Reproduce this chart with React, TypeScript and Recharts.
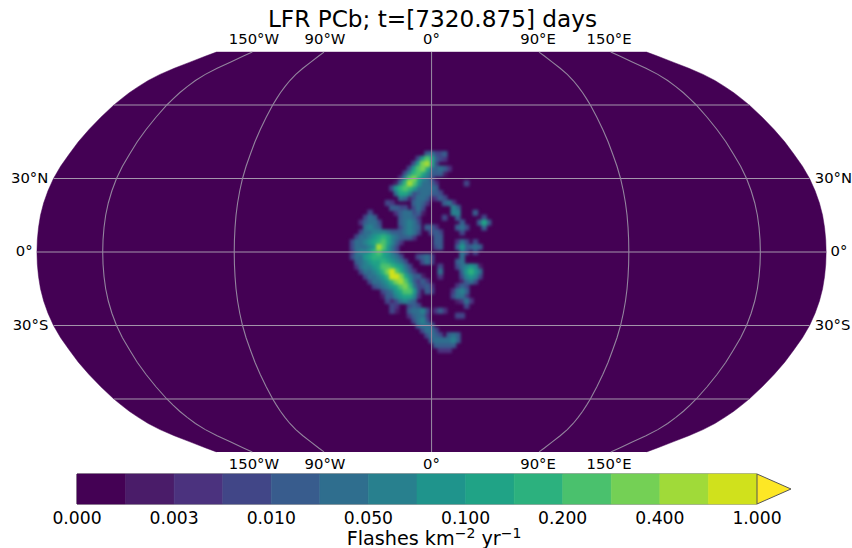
import React from "react";
import { ScatterChart, Scatter, XAxis, YAxis, BarChart, Bar, ReferenceArea } from "recharts";

const FONT = "'DejaVu Sans', sans-serif";

// Pseudocylindrical map: how much a meridian is compressed at each latitude.
const northLats = [0, 5, 10, 15, 20, 25, 30, 35, 40, 45, 50, 55, 60, 62.5, 65, 67.5, 70, 72.5, 75, 77.5, 80, 81.6];
const northWidths = [1, 0.999, 0.996, 0.991, 0.983, 0.972, 0.958, 0.94, 0.918, 0.895, 0.868, 0.838, 0.805, 0.786, 0.766, 0.743, 0.718, 0.688, 0.652, 0.612, 0.572, 0.545];
const parallels = [-60, -30, 0, 30, 60];
const meridians = [-150, -90, 0, 90, 150];
const topLabels = ["150°W", "90°W", "0°", "90°E", "150°E"];
const sideLabels = ["30°N", "0°", "30°S"];
const sideLats = [30, 0, -30];

// Discrete colour levels
const levelColors = ["#440154", "#4a1c69", "#4b327e", "#414687", "#385c8d", "#2f6e8e", "#28808e", "#1f948c", "#20a386", "#2cb17e", "#4ac16d", "#74d055", "#a0da39", "#d0e11c", "#fde725"];
const colorTicks = ["0.000", "0.003", "0.010", "0.050", "0.100", "0.200", "0.400", "1.000"];

// Flash rate class per cell (hex class, "." = lowest). Rows run north to south, columns west to east.
const gridLatNorth = 42;
const gridLatStep = 2;
const gridLonWest = -36;
const gridLonStep = 2;
const gridRows = [
  "",
  "..... ..... ..... ..453 34",
  "..... ..... ..... 37a84 32",
  "..... ..... ....3 7bc83",
  "..... ..... ...37 ab854 542",
  "..... ..... ..369 a8644 41",
  "..... ..... .26ab 8653",
  "..... ..... 159ca 75542 ..... .3",
  "..... ....3 79a97 55554",
  "..... ..... 58863 45544 3",
  "..... ..... .5413 55412 43",
  "..... ...32 ....4 542.. .452",
  "..... ....4 433.3 53... ...64",
  "....3 ..... 24553 41... ...66 ...4.",
  "...35 4.... .4554 2.... .3..4 ..... 3",
  "..245 53... .4565 3.... ..... 4...4 84",
  "...56 54... .3565 4.442 ....4 53... 4",
  "..355 66654 44565 3..34 3.... 3",
  ".3556 78986 54442 ....4 4",
  "35567 89a86 42... ....4 4...2 53.3.",
  "35556 7ca75 3.... ....3 4...4 74454",
  "25667 9a875 3.... ..... ..... 53.3",
  "35578 99876 53... 3453. ..... 5",
  ".4567 88987 653.. .353. ....4 5",
  ".2566 78aa9 8753. ..... 3...3 56761",
  "..355 679bd a8642 ..... 5.... 47975",
  "...35 5679d db864 41... 2.... 36763",
  "....3 55679 bca74 242.. ..... 1453",
  "..... 34567 8ab95 3342. ....2 43",
  "..... ..345 78aa7 3.43. ...25 64",
  "..... ..144 67886 2.... ...35 52",
  "..... ...31 35654 ..... ....1 252",
  "..... ....3 2..34 3.... ..... .3",
  "..... ....3 1..45 563.2 42",
  "..... ..... ...24 552.. ....3 3",
  "..... ..... ....3 563",
  "..... ..... ..... 4554",
  "..... ..... ..... .3553",
  "..... ..... ..... ..354 3.454",
  "..... ..... ..... ...45 55564",
  "..... ..... ..... ....4 4444",
  "..... ..... ..... ..... 222",
];

type Pt = { x: number; y: number };
const outlineLats = [...northLats.slice(1).reverse().map((l) => -l), ...northLats];
const outlineWidths = [...northWidths.slice(1).reverse(), ...northWidths];
const widthAt = (lat: number) => outlineWidths[outlineLats.indexOf(lat)];

const outline: Pt[] = [
  ...outlineLats.map((lat) => ({ x: -180 * widthAt(lat), y: lat })),
  ...[...outlineLats].reverse().map((lat) => ({ x: 180 * widthAt(lat), y: lat })),
];
const meridianLines: Pt[][] = meridians.map((lon) => outlineLats.map((lat) => ({ x: lon * widthAt(lat), y: lat })));
const parallelLines: Pt[][] = parallels.map((lat) => [
  { x: -180 * widthAt(lat), y: lat },
  { x: 180 * widthAt(lat), y: lat },
]);

const cells = gridRows
  .flatMap((row, r) =>
    row
      .replace(/ /g, "")
      .split("")
      .map((c, col) => ({
        x: gridLonWest + col * gridLonStep,
        y: gridLatNorth - r * gridLatStep,
        level: c === "." ? 0 : parseInt(c, 16),
      })),
  )
  .filter((c) => c.level > 0)
  .sort((a, b) => a.level - b.level);

const topLabelData = meridians.map((lon, i) => ({ x: lon * 0.54, y: 87.2, text: topLabels[i] }));
const bottomLabelData = meridians.map((lon, i) => ({ x: lon * 0.54, y: -86.5, text: topLabels[i] }));
const leftLabelData = sideLats.map((lat, i) => ({ x: -180 * (lat === 0 ? 1 : 0.96) - 2, y: lat + 0.6, text: sideLabels[i], anchor: "end" }));
const rightLabelData = sideLats.map((lat, i) => ({ x: 180 * (lat === 0 ? 1 : 0.96) + 2, y: lat + 0.6, text: sideLabels[i], anchor: "start" }));

const colorRow: Record<string, number | string> = { name: "scale", ext: 0.7 };
levelColors.slice(0, 14).forEach((_, i) => {
  colorRow[`s${i}`] = 1;
});

const NoDot = () => <g />;

const CellShape = (p: any) => (
  <rect x={p.cx - 2.9} y={p.cy - 3.1} width={5.8} height={6.2} fill={levelColors[p.payload.level]} />
);

const MapLabel = (p: any) => (
  <text
    x={p.cx}
    y={p.cy}
    textAnchor={p.payload.anchor ?? "middle"}
    dominantBaseline="central"
    fontFamily={FONT}
    fontSize={14.8}
    fill="#000"
  >
    {p.payload.text}
  </text>
);

const ArrowBar = (p: any) => (
  <path
    d={`M${p.x} ${p.y}L${p.x + p.width} ${p.y + p.height / 2}L${p.x} ${p.y + p.height}Z`}
    fill={levelColors[14]}
    stroke="#555"
    strokeWidth={1}
  />
);

const ScaleTitle = () => (
  <text x={434} y={545} textAnchor="middle" fontFamily={FONT} fontSize={19.2} fill="#000">
    Flashes km
    <tspan dy={-7} fontSize={14}>−2</tspan>
    <tspan dy={7}> yr</tspan>
    <tspan dy={-7} fontSize={14}>−1</tspan>
  </text>
);

export default function App() {
  const parallelLine = { stroke: "#a496ac", strokeWidth: 1, fill: "none" };
  const meridianLine = { stroke: "#93849e", strokeWidth: 1.1, fill: "none" };
  return (
    <div style={{ position: "absolute", left: 0, top: 0, width: 852, height: 548 }}>
      <svg width={0} height={0} style={{ position: "absolute" }}>
        <defs>
          <filter id="heatBlur" x="-10%" y="-10%" width="120%" height="120%" colorInterpolationFilters="sRGB">
            <feGaussianBlur stdDeviation={1.7} />
          </filter>
        </defs>
      </svg>
      <style>{`.heat{filter:url(#heatBlur)}`}</style>
      <div style={{ position: "absolute", left: 0, top: 0 }}>
        <ScatterChart width={852} height={548} margin={{ top: 0, right: 0, bottom: 0, left: 0 }}>
          <XAxis type="number" dataKey="x" hide domain={[-196.85, 191.8]} allowDataOverflow />
          <YAxis type="number" dataKey="y" hide domain={[-120.82, 102.86]} allowDataOverflow />
          <Scatter
            data={outline}
            isAnimationActive={false}
            shape={NoDot}
            line={{ fill: levelColors[0], stroke: levelColors[0], strokeWidth: 0.5 }}
          />
          <Scatter className="heat" data={cells} isAnimationActive={false} shape={CellShape} />
          {parallelLines.map((d, i) => (
            <Scatter key={`p${i}`} data={d} isAnimationActive={false} shape={NoDot} line={parallelLine} />
          ))}
          {meridianLines.map((d, i) => (
            <Scatter key={`m${i}`} data={d} isAnimationActive={false} shape={NoDot} line={meridianLine} />
          ))}
          <Scatter data={topLabelData} isAnimationActive={false} shape={MapLabel} />
          <Scatter data={bottomLabelData} isAnimationActive={false} shape={MapLabel} />
          <Scatter data={leftLabelData} isAnimationActive={false} shape={MapLabel} />
          <Scatter data={rightLabelData} isAnimationActive={false} shape={MapLabel} />
          <text x={432.5} y={27} textAnchor="middle" fontFamily={FONT} fontSize={23.2} fill="#000">
            LFR PCb; t=[7320.875] days
          </text>
        </ScatterChart>
      </div>
      <div style={{ position: "absolute", left: 0, top: 0 }}>
        <BarChart
          width={852}
          height={548}
          layout="vertical"
          data={[colorRow]}
          barCategoryGap={0}
          margin={{ top: 474, right: 61, bottom: 0, left: 77 }}
        >
          <XAxis
            type="number"
            domain={[0, 14.7]}
            ticks={[0, 2, 4, 6, 8, 10, 12, 14]}
            interval={0}
            tickFormatter={(v: number) => colorTicks[v / 2]}
            axisLine={false}
            tickLine={false}
            tickMargin={2}
            height={44}
            tick={{ fontFamily: FONT, fontSize: 17.2, fill: "#000" }}
            label={<ScaleTitle />}
          />
          <YAxis type="category" dataKey="name" hide />
          {levelColors.slice(0, 14).map((c, i) => (
            <Bar key={c} dataKey={`s${i}`} stackId="a" fill={c} stroke={c} strokeWidth={0.6} isAnimationActive={false} />
          ))}
          <Bar dataKey="ext" stackId="a" isAnimationActive={false} shape={ArrowBar} />
          <ReferenceArea x1={0} x2={14} fill="none" stroke="#555" strokeWidth={1} ifOverflow="visible" />
        </BarChart>
      </div>
    </div>
  );
}
